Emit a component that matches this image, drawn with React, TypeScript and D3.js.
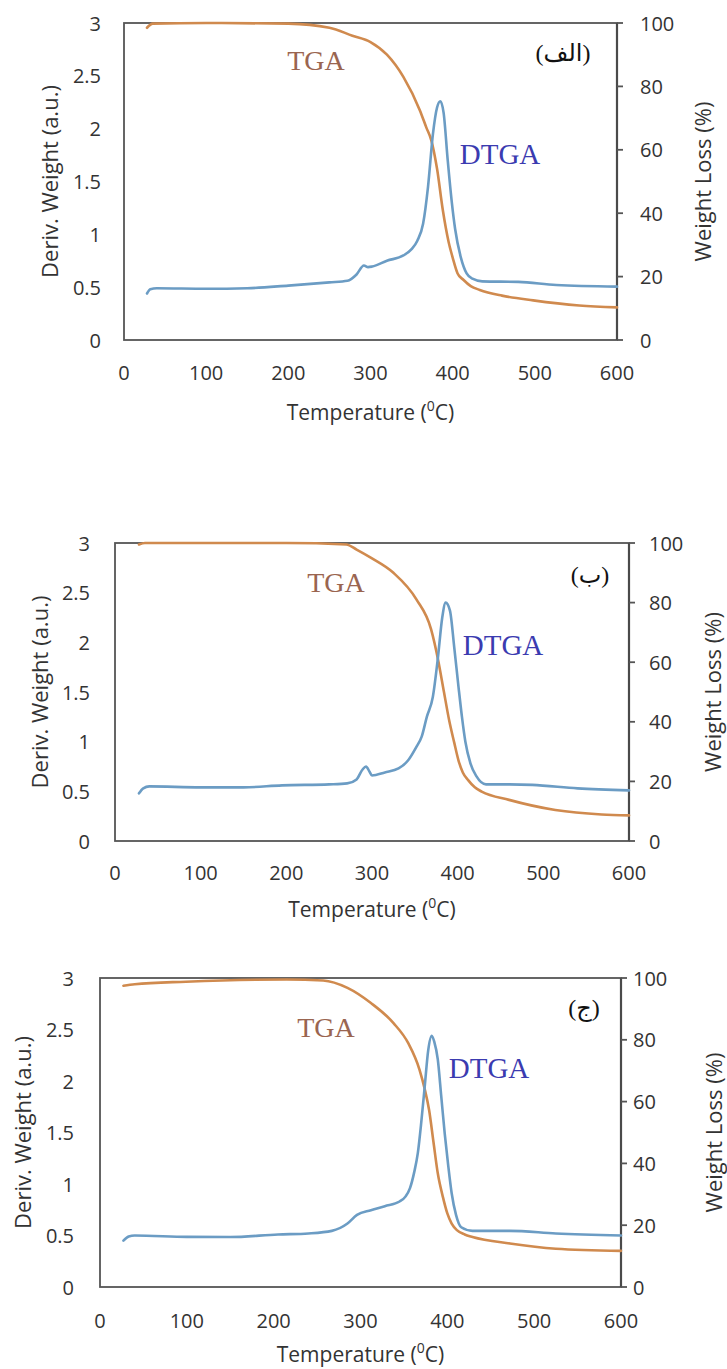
import React from "react";
import * as d3 from "d3";

// ---------- data ----------
const xTicks = [0, 100, 200, 300, 400, 500, 600];
const yLeftTicks = [0, 0.5, 1, 1.5, 2, 2.5, 3];
const yLeftTickLabels = ["0", "0.5", "1", "1.5", "2", "2.5", "3"];
const yRightTicks = [0, 20, 40, 60, 80, 100];
const panelTags = ["(الف)", "(ب)", "(ج)"];

// Panel 1 (الف)
const p1DtgaT = [28, 32, 40, 100, 150, 200, 250, 272, 283, 292, 297, 302, 320, 340, 350, 357, 364, 370, 376, 381, 385, 389, 394, 399, 403, 410, 417, 424, 436, 480, 526, 600];
const p1DtgaV = [0.44, 0.48, 0.49, 0.485, 0.49, 0.515, 0.545, 0.56, 0.62, 0.705, 0.69, 0.695, 0.75, 0.8, 0.86, 0.94, 1.1, 1.45, 1.95, 2.2, 2.26, 2.15, 1.7, 1.3, 1.05, 0.78, 0.63, 0.58, 0.555, 0.55, 0.52, 0.505];
const p1TgaT = [28, 35, 100, 200, 250, 278, 300, 320, 340, 360, 368, 374, 381, 388, 395, 400, 406, 413, 422, 433, 460, 498, 554, 600];
const p1TgaV = [98.5, 99.8, 100, 99.8, 98.5, 96, 94, 90, 83, 72.5, 67, 63, 54, 41, 31, 26, 21, 19, 17, 15.8, 14, 12.5, 10.9, 10.3];

// Panel 2 (ب)
const p2DtgaT = [28, 33, 40, 100, 150, 195, 250, 271, 282, 289, 293, 297, 300, 315, 331, 342, 352, 358, 364, 371, 377, 382, 386, 391, 396, 401, 405, 409, 415, 422, 433, 460, 487, 540, 600];
const p2DtgaV = [0.48, 0.53, 0.55, 0.54, 0.54, 0.56, 0.57, 0.58, 0.62, 0.72, 0.75, 0.7, 0.66, 0.69, 0.73, 0.81, 0.95, 1.05, 1.25, 1.45, 1.85, 2.25, 2.4, 2.32, 1.95, 1.55, 1.25, 1.0, 0.78, 0.65, 0.57, 0.57, 0.565, 0.53, 0.51];
const p2TgaT = [28, 35, 100, 200, 270, 282, 299, 325, 352, 369, 377, 384, 390, 396, 401, 406, 412, 420, 428, 460, 514, 568, 600];
const p2TgaV = [99.5, 100, 100, 100, 99.5, 97.8, 95, 90, 81, 71, 61, 50, 40.6, 33, 27, 23, 20.5, 18, 16.6, 13.8, 10.4, 8.9, 8.6];

// Panel 3 (ج)
const p3DtgaT = [27, 33, 40, 100, 150, 205, 240, 267, 285, 296, 312, 328, 345, 352, 357, 362, 366, 370, 374, 378, 382, 385, 389, 393, 397, 401, 405, 410, 416, 429, 472, 525, 600];
const p3DtgaV = [0.45, 0.49, 0.5, 0.487, 0.485, 0.51, 0.52, 0.545, 0.616, 0.7, 0.746, 0.785, 0.83, 0.88, 0.96, 1.12, 1.3, 1.6, 1.95, 2.3, 2.44, 2.38, 2.21, 1.85, 1.49, 1.18, 0.91, 0.7, 0.58, 0.545, 0.545, 0.52, 0.5];
const p3TgaT = [27, 40, 99, 215, 257, 285, 312, 338, 355, 368, 374, 379, 384, 389, 395, 400, 405, 411, 420, 429, 472, 525, 600];
const p3TgaV = [97.5, 98, 98.8, 99.5, 99.2, 96.8, 91.9, 85.4, 78.9, 70.3, 64, 57.3, 47, 36.8, 29, 23.8, 20.5, 18.4, 17, 16.2, 14.1, 12.4, 11.7];

// ---------- layout ----------
type Layout = {
  left: number; right: number; top: number; bottom: number;
  xLabelY: number; xTitleY: number; yLabelX: number; yTitleX: number;
  rLabelX: number; rTitleX: number;
  tga: [number, number]; dtga: [number, number]; tag: [number, number];
};

const layouts: Layout[] = [
  { left: 124, right: 617, top: 23, bottom: 340, xLabelY: 372, xTitleY: 412, yLabelX: 101, yTitleX: 49, rLabelX: 640, rTitleX: 702, tga: [316, 70], dtga: [500, 164], tag: [563, 53] },
  { left: 115, right: 629, top: 543, bottom: 841, xLabelY: 872, xTitleY: 909, yLabelX: 90, yTitleX: 39, rLabelX: 649, rTitleX: 712, tga: [336, 592], dtga: [503, 655], tag: [590, 575] },
  { left: 100, right: 621, top: 978, bottom: 1287, xLabelY: 1320, xTitleY: 1354, yLabelX: 74, yTitleX: 22, rLabelX: 633, rTitleX: 713, tga: [326, 1037], dtga: [489, 1078], tag: [584, 1008] },
];

const series = [
  { dT: p1DtgaT, dV: p1DtgaV, tT: p1TgaT, tV: p1TgaV },
  { dT: p2DtgaT, dV: p2DtgaV, tT: p2TgaT, tV: p2TgaV },
  { dT: p3DtgaT, dV: p3DtgaV, tT: p3TgaT, tV: p3TgaV },
];

const SANS = "'Open Sans', 'Noto Sans', sans-serif";
const SERIF = "'Liberation Serif', 'DejaVu Serif', serif";
const AXIS = "#555";
const TGA_COLOR = "#d08a4e";
const DTGA_COLOR = "#6b9cc4";

function Panel({ L, s, tag }: { L: Layout; s: typeof series[0]; tag: string }) {
  const x = d3.scaleLinear().domain([0, 600]).range([L.left, L.right]);
  const yL = d3.scaleLinear().domain([0, 3]).range([L.bottom, L.top]);
  const yR = d3.scaleLinear().domain([0, 100]).range([L.bottom, L.top]);

  const dPts = s.dT.map((t, i) => [t, s.dV[i]] as [number, number]);
  const tPts = s.tT.map((t, i) => [t, s.tV[i]] as [number, number]);
  const dLine = d3.line<[number, number]>().x(d => x(d[0])).y(d => yL(d[1])).curve(d3.curveMonotoneX);
  const tLine = d3.line<[number, number]>().x(d => x(d[0])).y(d => yR(d[1])).curve(d3.curveMonotoneX);
  const midY = (L.top + L.bottom) / 2;

  return (
    <g>
      {/* frame */}
      <rect x={L.left} y={L.top} width={L.right - L.left} height={L.bottom - L.top} fill="none" stroke={AXIS} strokeWidth={1.8} />
      <line x1={L.right} x2={L.right} y1={L.top} y2={L.bottom} stroke="#4a4a4a" strokeWidth={2.2} />
      {yRightTicks.map(v => (
        <line key={"rt" + v} x1={L.right} x2={L.right + 6} y1={yR(v)} y2={yR(v)} stroke={AXIS} strokeWidth={1.8} />
      ))}

      {/* series */}
      <path d={tLine(tPts) || ""} fill="none" stroke={TGA_COLOR} strokeWidth={2.6} strokeLinejoin="round" strokeLinecap="round" />
      <path d={dLine(dPts) || ""} fill="none" stroke={DTGA_COLOR} strokeWidth={2.6} strokeLinejoin="round" strokeLinecap="round" />

      {/* tick labels */}
      {xTicks.map(v => (
        <text key={"x" + v} x={x(v)} y={L.xLabelY} textAnchor="middle" dominantBaseline="central" fontFamily={SANS} fontSize={20} fill="#333">{v}</text>
      ))}
      {yLeftTicks.map((v, i) => (
        <text key={"yl" + v} x={L.yLabelX} y={yL(v)} textAnchor="end" dominantBaseline="central" fontFamily={SANS} fontSize={20} fill="#333">{yLeftTickLabels[i]}</text>
      ))}
      {yRightTicks.map(v => (
        <text key={"yr" + v} x={L.rLabelX} y={yR(v)} textAnchor="start" dominantBaseline="central" fontFamily={SANS} fontSize={20} fill="#333">{v}</text>
      ))}

      {/* axis titles */}
      <text x={(L.left + L.right) / 2} y={L.xTitleY} textAnchor="middle" dominantBaseline="central" fontFamily={SANS} fontSize={21} fill="#333">
        Temperature (<tspan fontSize={14} dy={-7}>0</tspan><tspan dy={7}>C)</tspan>
      </text>
      <text transform={`translate(${L.yTitleX},${midY}) rotate(-90)`} textAnchor="middle" dominantBaseline="central" fontFamily={SANS} fontSize={22} fill="#333">Deriv. Weight (a.u.)</text>
      <text transform={`translate(${L.rTitleX},${midY}) rotate(-90)`} textAnchor="middle" dominantBaseline="central" fontFamily={SANS} fontSize={22} fill="#333">Weight Loss (%)</text>

      {/* annotations */}
      <text x={L.tga[0]} y={L.tga[1]} textAnchor="middle" fontFamily={SERIF} fontSize={28} fill="#9a6550">TGA</text>
      <text x={L.dtga[0]} y={L.dtga[1]} textAnchor="middle" fontFamily={SERIF} fontSize={29} fill="#3b3bb0">DTGA</text>
      <text x={L.tag[0]} y={L.tag[1]} textAnchor="middle" dominantBaseline="central" fontFamily={"'Liberation Serif', 'DejaVu Sans', serif"} fontSize={24} fill="#111">{tag}</text>
    </g>
  );
}

export default function App() {
  return (
    <svg width={727} height={1369} viewBox="0 0 727 1369" style={{ position: "absolute", left: 0, top: 0, background: "#fff" }}>
      <rect x={0} y={0} width={727} height={1369} fill="#fff" />
      {layouts.map((L, i) => (
        <Panel key={i} L={L} s={series[i]} tag={panelTags[i]} />
      ))}
    </svg>
  );
}
